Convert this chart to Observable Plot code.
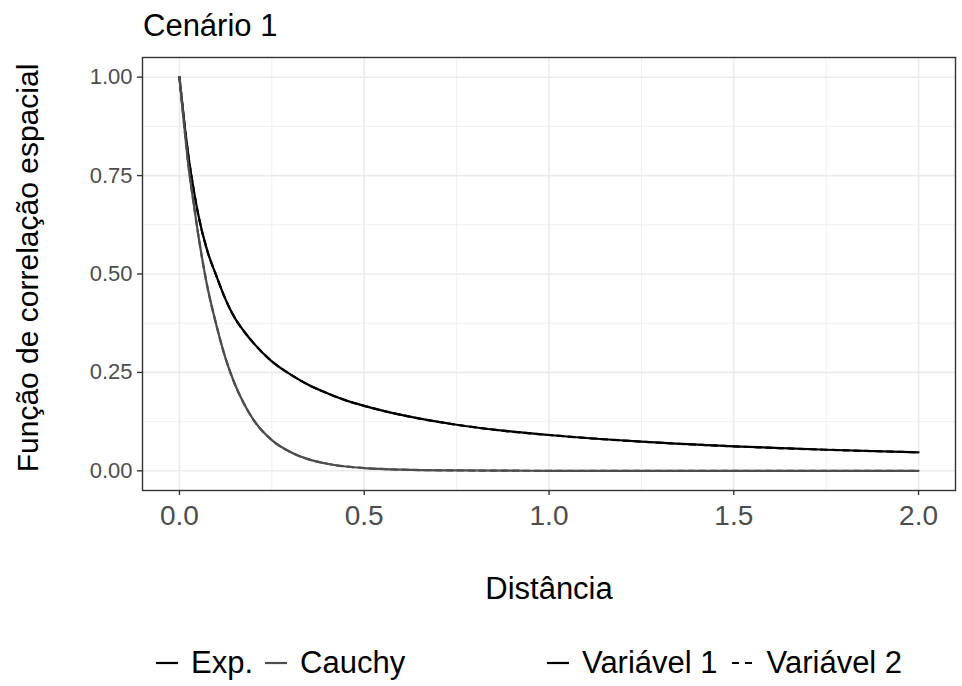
<!DOCTYPE html>
<html>
<head>
<meta charset="utf-8">
<script src="https://cdn.jsdelivr.net/npm/d3@7"></script>
<script src="https://cdn.jsdelivr.net/npm/@observablehq/plot@0.6"></script>
<style>
  html, body { margin: 0; padding: 0; background: #fff; }
  body { width: 962px; height: 686px; position: relative; overflow: hidden; font-family: "Liberation Sans", Arial, sans-serif; }
  #title { position: absolute; left: 143px; top: 8px; font-size: 31px; color: #000; white-space: nowrap; }
  #chart { position: absolute; left: 0; top: 50px; }
  #legend { position: absolute; top: 644px; left: 0; width: 962px; height: 38px; font-size: 31px; color: #000; }
  .key { position: absolute; top: 9px; }
  .lab { position: absolute; top: 0; white-space: nowrap; line-height: 38px; }
</style>
</head>
<body>
<div id="title">Cenário 1</div>
<div id="chart"></div>
<div id="legend"></div>
<script>
// Distances (x) at which the curves were read
const distancia = [0, 0.0125, 0.025, 0.0375, 0.05, 0.075, 0.1, 0.125, 0.15, 0.175, 0.2, 0.25, 0.3, 0.35, 0.4, 0.45, 0.5, 0.6, 0.75, 0.875, 1.0, 1.25, 1.5, 1.75, 2.0];
// Exp. (black) – Variável 1 and Variável 2 (overlapping)
const expV1 = [1.00, 0.89, 0.795, 0.72, 0.655, 0.56, 0.495, 0.435, 0.388, 0.354, 0.325, 0.278, 0.245, 0.218, 0.197, 0.179, 0.165, 0.142, 0.117, 0.102, 0.091, 0.074, 0.0622, 0.0535, 0.047];
const expV2 = [1.00, 0.89, 0.795, 0.72, 0.655, 0.56, 0.495, 0.435, 0.388, 0.354, 0.325, 0.278, 0.245, 0.218, 0.197, 0.179, 0.165, 0.142, 0.117, 0.102, 0.091, 0.074, 0.0622, 0.0535, 0.047];
// Cauchy (grey) – Variável 1 and Variável 2 (overlapping)
const cauchyV1 = [1.00, 0.88, 0.77, 0.685, 0.605, 0.47, 0.37, 0.285, 0.22, 0.17, 0.13, 0.078, 0.048, 0.029, 0.018, 0.011, 0.007, 0.003, 0.001, 0.0005, 0, 0, 0, 0, 0];
const cauchyV2 = [1.00, 0.88, 0.77, 0.685, 0.605, 0.47, 0.37, 0.285, 0.22, 0.17, 0.13, 0.078, 0.048, 0.029, 0.018, 0.011, 0.007, 0.003, 0.001, 0.0005, 0, 0, 0, 0, 0];

const funcoes = ["Exp.", "Cauchy"];
const variaveis = ["Variável 1", "Variável 2"];
const xTicks = [0, 0.5, 1, 1.5, 2];
const xMinor = [0.25, 0.75, 1.25, 1.75];
const yTicks = [0, 0.25, 0.5, 0.75, 1];
const yMinor = [0.125, 0.375, 0.625, 0.875];

const colors = {"Exp.": "#000000", "Cauchy": "#4d4d4d"};
const dashes = {"Variável 1": null, "Variável 2": "6,5"};

const series = [
  {f: "Exp.", v: "Variável 1", vals: expV1},
  {f: "Exp.", v: "Variável 2", vals: expV2},
  {f: "Cauchy", v: "Variável 1", vals: cauchyV1},
  {f: "Cauchy", v: "Variável 2", vals: cauchyV2}
];
const rows = series.flatMap(s => distancia.map((d, i) => ({dist: d, val: s.vals[i], funcao: s.f, variavel: s.v})));

const font = '"Liberation Sans", Arial, sans-serif';
const lineMarks = series.map(s => Plot.line(rows.filter(r => r.funcao === s.f && r.variavel === s.v), {
  x: "dist", y: "val", stroke: colors[s.f], strokeWidth: 2.2,
  strokeDasharray: dashes[s.v] || undefined, curve: "monotone-x"
}));

const plot = Plot.plot({
  width: 962,
  height: 560,
  marginLeft: 142,
  marginRight: 7,
  marginTop: 7,
  marginBottom: 120,
  style: {fontFamily: font, background: "white"},
  x: {domain: [-0.1, 2.1]},
  y: {domain: [-0.05, 1.05]},
  marks: [
    Plot.ruleX(xMinor, {stroke: "#ebebeb", strokeWidth: 0.8}),
    Plot.ruleY(yMinor, {stroke: "#ebebeb", strokeWidth: 0.8}),
    Plot.ruleX(xTicks, {stroke: "#ebebeb", strokeWidth: 1.6}),
    Plot.ruleY(yTicks, {stroke: "#ebebeb", strokeWidth: 1.6}),
    ...lineMarks,
    Plot.frame({stroke: "#333333", strokeWidth: 1.4}),
    Plot.axisX({ticks: xTicks, tickFormat: d3.format(".1f"), tickSize: 5, tickPadding: 10, fontSize: 28, color: "#4d4d4d", stroke: "#333333", strokeWidth: 1.4, label: null}),
    Plot.axisY({ticks: yTicks, tickFormat: d3.format(".2f"), tickSize: 5, tickPadding: 5, fontSize: 22, color: "#4d4d4d", stroke: "#333333", strokeWidth: 1.4, label: null}),
    Plot.text(["Distância"], {frameAnchor: "bottom", dy: 108, fontSize: 31, fill: "#000"}),
    Plot.text(["Função de correlação espacial"], {frameAnchor: "left", textAnchor: "middle", rotate: -90, dx: -114, dy: -6, fontSize: 30, fill: "#000"})
  ]
});
document.getElementById("chart").appendChild(plot);

// Legend (two groups: colour = função, linetype = variável)
const legend = document.getElementById("legend");
function addItem(label, color, dash, left) {
  const key = document.createElementNS("http://www.w3.org/2000/svg", "svg");
  key.setAttribute("width", 24); key.setAttribute("height", 20);
  key.setAttribute("class", "key");
  key.style.left = left + "px";
  key.innerHTML = `<line x1="1" x2="23" y1="10" y2="10" stroke="${color}" stroke-width="2.2" ${dash ? `stroke-dasharray="${dash}"` : ""}/>`;
  legend.appendChild(key);
  const span = document.createElement("span");
  span.className = "lab";
  span.textContent = label;
  span.style.left = (left + 36) + "px";
  legend.appendChild(span);
  return left + 36 + span.getBoundingClientRect().width;
}
let end = addItem(funcoes[0], colors["Exp."], null, 155);
addItem(funcoes[1], colors["Cauchy"], null, end + 11);
end = addItem(variaveis[0], "#000", null, 546);
addItem(variaveis[1], "#000", "7,6", end + 13);
</script>
</body>
</html>
